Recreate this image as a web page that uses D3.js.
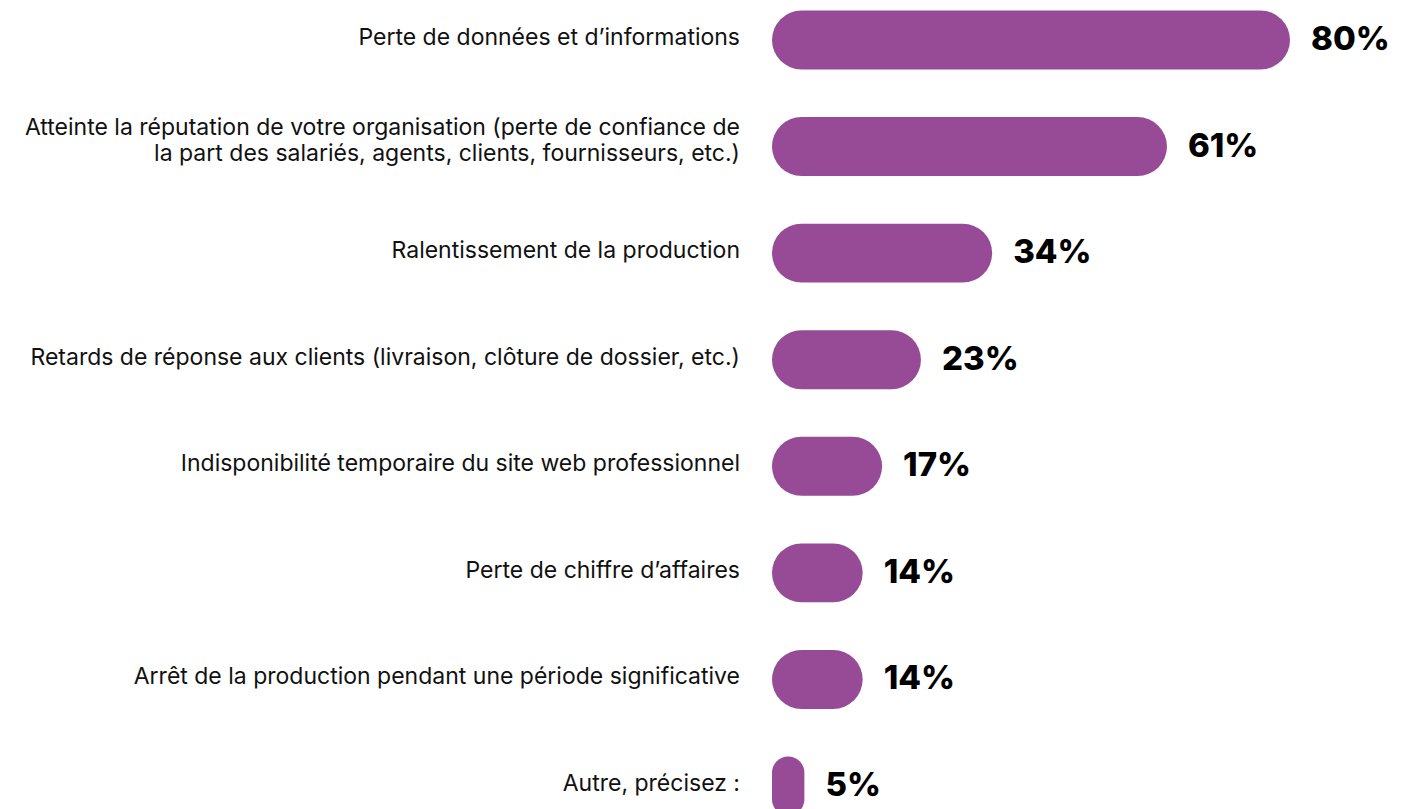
<!DOCTYPE html>
<html>
<head>
<meta charset="utf-8">
<script src="https://cdn.jsdelivr.net/npm/d3@7"></script>
<style>
  html, body { margin: 0; padding: 0; background: #ffffff; overflow: hidden; }
  svg { display: block; }
</style>
</head>
<body>
<svg id="chart" width="1410" height="809"></svg>
<script>
const categories = [
  ["Perte de données et d’informations"],
  ["Atteinte la réputation de votre organisation (perte de confiance de", "la part des salariés, agents, clients, fournisseurs, etc.)"],
  ["Ralentissement de la production"],
  ["Retards de réponse aux clients (livraison, clôture de dossier, etc.)"],
  ["Indisponibilité temporaire du site web professionnel"],
  ["Perte de chiffre d’affaires"],
  ["Arrêt de la production pendant une période significative"],
  ["Autre, précisez :"]
];
const values = [80, 61, 34, 23, 17, 14, 14, 5];
const valueLabels = ["80%", "61%", "34%", "23%", "17%", "14%", "14%", "5%"];

const svg = d3.select("#chart");
const ids = d3.range(values.length);

const x = d3.scaleLinear().domain([0, 80]).range([772, 1290]);
const y = d3.scaleBand().domain(ids).range([10.5, 815.5]).paddingInner(0.447).paddingOuter(0);
const bh = y.bandwidth();

svg.append("g").selectAll("rect").data(ids).join("rect")
  .attr("x", x(0))
  .attr("y", i => y(i))
  .attr("width", i => x(values[i]) - x(0))
  .attr("height", bh)
  .attr("rx", i => Math.min(bh / 2, (x(values[i]) - x(0)) / 2))
  .attr("ry", i => Math.min(bh / 2, (x(values[i]) - x(0)) / 2))
  .attr("fill", "#974a96");

svg.append("g").selectAll("text").data(ids).join("text")
  .attr("x", i => x(values[i]) + 21)
  .attr("y", i => y(i) + bh / 2 + 10)
  .attr("font-family", "Inter, 'Noto Sans', sans-serif")
  .attr("font-weight", 800)
  .attr("font-size", 33)
  .attr("fill", "#000")
  .text(i => valueLabels[i]);

const lineH = 26;
const lab = svg.append("g").selectAll("text").data(ids).join("text")
  .attr("text-anchor", "end")
  .attr("font-family", "Inter, 'Noto Sans', sans-serif")
  .attr("font-size", 23)
  .attr("fill", "#111");
lab.each(function(i) {
  const lines = categories[i];
  const n = lines.length;
  const c = y(i) + bh / 2;
  const base = n > 1 ? c + 1 : c + 5;
  d3.select(this).selectAll("tspan").data(lines).join("tspan")
    .attr("x", 740)
    .attr("y", (d, k) => base + (k - (n - 1) / 2) * lineH)
    .text(d => d);
});
</script>
</body>
</html>
